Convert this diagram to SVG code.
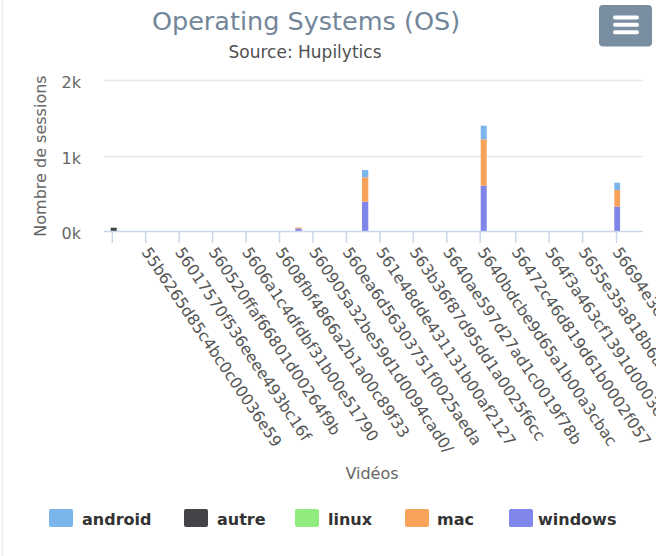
<svg xmlns="http://www.w3.org/2000/svg" width="656" height="556" viewBox="0 0 656 556">
<style>
.t{font-family:"DejaVu Sans",Verdana,sans-serif}
.ttl{font-size:25.5px;fill:#738699}
.sub{font-size:17px;fill:#505050}
.ax{font-size:16px;fill:#666}
.xl{font-size:15.8px;fill:#555}
.lg{font-size:16px;font-weight:bold;fill:#333}
.grid{stroke:#e6e6e6;stroke-width:1.5}
.tick{stroke:#ccd6eb;stroke-width:1.5}
.an{fill:#7cb5ec}.au{fill:#434348}.li{fill:#90ed7d}.ma{fill:#f7a35c}.wi{fill:#8085e9}
</style>
<rect x="0" y="0" width="656" height="556" fill="#ffffff"/>
<line x1="2.5" y1="0" x2="2.5" y2="556" stroke="#ececec" stroke-width="1.5"/>
<g id="title">
<text class="t ttl" x="306" y="30" text-anchor="middle">Operating Systems (OS)</text>
<text class="t sub" x="305" y="58" text-anchor="middle">Source: Hupilytics</text>
</g>
<g id="menu">
<rect x="599" y="5" width="53" height="41.5" rx="4" fill="#7a8ea2"/>
<g stroke="#fff" stroke-width="4" stroke-linecap="round">
<line x1="615" y1="17.5" x2="637" y2="17.5"/>
<line x1="615" y1="24.8" x2="637" y2="24.8"/>
<line x1="615" y1="32.2" x2="637" y2="32.2"/>
</g>
</g>
<g id="yaxis">
<line class="grid" x1="104" y1="80.5" x2="643" y2="80.5"/>
<line class="grid" x1="104" y1="156.5" x2="643" y2="156.5"/>
<text class="t ax" x="81" y="87.5" text-anchor="end">2k</text>
<text class="t ax" x="81" y="163.5" text-anchor="end">1k</text>
<text class="t ax" x="81" y="238.5" text-anchor="end">0k</text>
<text class="t ax" font-size="17.5" transform="translate(46,156) rotate(-90)" text-anchor="middle">Nombre de sessions</text>
</g>
<g id="bars">
<rect class="au" x="110.7" y="227.7" width="6" height="3.8"/>
<rect class="ma" x="295.3" y="227.5" width="6.4" height="1.2"/>
<rect class="wi" x="295.3" y="228.7" width="6.4" height="2.8"/>
<rect class="wi" x="362" y="201.7" width="6.3" height="29.8"/>
<rect class="ma" x="362" y="177.3" width="6.3" height="24.4"/>
<rect class="an" x="362" y="170" width="6.3" height="7.3"/>
<rect class="wi" x="480.7" y="185.7" width="6" height="45.8"/>
<rect class="ma" x="480.7" y="139.3" width="6" height="46.4"/>
<rect class="an" x="480.7" y="125.7" width="6" height="13.6"/>
<rect class="wi" x="614.3" y="206.7" width="5.8" height="24.8"/>
<rect class="ma" x="614.3" y="190" width="5.8" height="16.7"/>
<rect class="an" x="614.3" y="182.7" width="5.8" height="7.3"/>
</g>
<g id="xaxis">
<line class="tick" x1="104" y1="231.5" x2="643" y2="231.5"/>
<g class="tick">
<line x1="112.3" y1="231.5" x2="112.3" y2="243"/>
<line x1="145.7" y1="231.5" x2="145.7" y2="243"/>
<line x1="179.2" y1="231.5" x2="179.2" y2="243"/>
<line x1="212.6" y1="231.5" x2="212.6" y2="243"/>
<line x1="246.1" y1="231.5" x2="246.1" y2="243"/>
<line x1="279.5" y1="231.5" x2="279.5" y2="243"/>
<line x1="313" y1="231.5" x2="313" y2="243"/>
<line x1="346.4" y1="231.5" x2="346.4" y2="243"/>
<line x1="379.9" y1="231.5" x2="379.9" y2="243"/>
<line x1="413.3" y1="231.5" x2="413.3" y2="243"/>
<line x1="446.8" y1="231.5" x2="446.8" y2="243"/>
<line x1="480.2" y1="231.5" x2="480.2" y2="243"/>
<line x1="515.7" y1="231.5" x2="515.7" y2="243"/>
<line x1="549.1" y1="231.5" x2="549.1" y2="243"/>
<line x1="582.6" y1="231.5" x2="582.6" y2="243"/>
<line x1="616.5" y1="231.5" x2="616.5" y2="243"/>
</g>
<g class="t xl">
<text transform="translate(141,252) rotate(56)">55b6265d85c4bc0c00036e59</text>
<text transform="translate(174.5,252) rotate(56)">56017570f536eeee493bc16f</text>
<text transform="translate(208,252) rotate(56)">560520ffaf66801d00264f9b</text>
<text transform="translate(241.5,252) rotate(56)">5606a1c4dfdbf31b00e51790</text>
<text transform="translate(275,252) rotate(56)">5608fbf4866a2b1a00c89f33</text>
<text transform="translate(308.5,252) rotate(56)">560905a32be59d1d0094cad0/</text>
<text transform="translate(342,252) rotate(56)">560ea6d56303751f0025aeda</text>
<text transform="translate(375.5,252) rotate(56)">561e48dde431131b00af2127</text>
<text transform="translate(409,252) rotate(56)">563b36f87d95dd1a0025f6cc</text>
<text transform="translate(442.5,252) rotate(56)">5640ae597d27ad1c0019f78b</text>
<text transform="translate(477,252) rotate(56)">5640bdcbe9d65a1b00a3cbac</text>
<text transform="translate(511,252) rotate(56)">56472c46d819d61b0002f057</text>
<text transform="translate(544.5,252) rotate(56)">564f3a463cf1391d0003e</text>
<text transform="translate(578,252) rotate(56)">5655e35a818b6a</text>
<text transform="translate(612,252) rotate(56)">56694e3c</text>
</g>
<text class="t ax" font-size="17.5" x="372" y="479" text-anchor="middle">Vidéos</text>
</g>
<g id="legend">
<rect class="an" x="49" y="509" width="24" height="18" rx="2"/>
<text class="t lg" x="82" y="525">android</text>
<rect class="au" x="184" y="509" width="24" height="18" rx="2"/>
<text class="t lg" x="217" y="525">autre</text>
<rect class="li" x="295" y="509" width="24" height="18" rx="2"/>
<text class="t lg" x="328" y="525">linux</text>
<rect class="ma" x="405" y="509" width="24" height="18" rx="2"/>
<text class="t lg" x="437" y="525">mac</text>
<rect class="wi" x="509" y="509" width="24" height="18" rx="2"/>
<text class="t lg" x="538" y="525">windows</text>
</g>
</svg>
